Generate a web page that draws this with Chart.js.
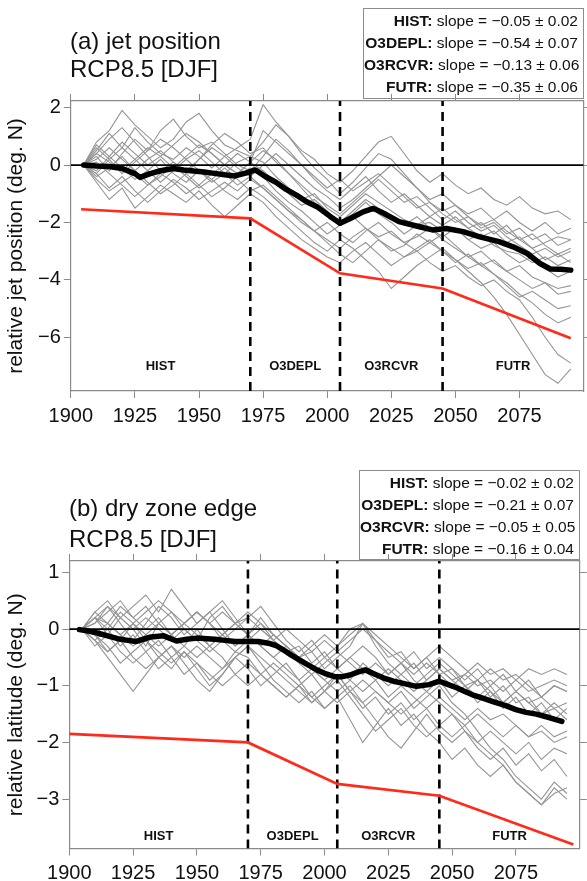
<!DOCTYPE html>
<html><head><meta charset="utf-8">
<script src="https://cdn.jsdelivr.net/npm/chart.js@4.4.1/dist/chart.umd.min.js"></script>
<style>
html,body{margin:0;padding:0;background:#fff;}
body{width:587px;height:881px;position:relative;overflow:hidden;font-family:"Liberation Sans",Arial,sans-serif;color:#111;}
canvas{position:absolute;left:0;}
.t{position:absolute;font-size:24px;line-height:28px;white-space:nowrap;}
.box{position:absolute;border:1px solid #8c8c8c;box-sizing:border-box;font-size:15.5px;line-height:21.9px;text-align:right;padding:1px 5px 0 0;white-space:nowrap;}
</style></head>
<body>
<canvas id="ca" width="587" height="440" style="top:0"></canvas>
<canvas id="cb" width="587" height="441" style="top:440px"></canvas>
<div class="t" style="left:70px;top:27px">(a) jet position</div>
<div class="t" style="left:70px;top:55px">RCP8.5 [DJF]</div>
<div class="t" style="left:69px;top:494px">(b) dry zone edge</div>
<div class="t" style="left:69px;top:525px">RCP8.5 [DJF]</div>
<div class="box" id="boxA" style="left:363px;top:8px;width:221px;height:91px"></div>
<div class="box" id="boxB" style="left:359px;top:470px;width:221px;height:90px"></div>
<script>
// ---------------- DATA ----------------
const xTicks = [1900, 1925, 1950, 1975, 2000, 2025, 2050, 2075];
const yTicksA = [2, 0, -2, -4, -6];
const yTicksB = [1, 0, -1, -2, -3];
const periodNames = ["HIST", "O3DEPL", "O3RCVR", "FUTR"];
const periodBounds = [1900, 1970, 2005, 2045, 2100];
const periodLabels = ["HIST", "O3DEPL", "O3RCVR", "FUTR"];
const slopesA = ["\u22120.05 \u00b1 0.02", "\u22120.54 \u00b1 0.07", "\u22120.13 \u00b1 0.06", "\u22120.35 \u00b1 0.06"];
const slopesB = ["\u22120.02 \u00b1 0.02", "\u22120.21 \u00b1 0.07", "\u22120.05 \u00b1 0.05", "\u22120.16 \u00b1 0.04"];

const memberYears = [1905,1910,1915,1920,1925,1930,1935,1940,1945,1950,1955,1960,1965,1970,1975,1980,1985,1990,1995,2000,2005,2010,2015,2020,2025,2030,2035,2040,2045,2050,2055,2060,2065,2070,2075,2080,2085,2090,2095];

// panel (a) ensemble members (relative jet position, deg N)
const jetM1  = [0,0.8,1.2,1.9,1.4,1.0,0.6,0.9,1.5,1.8,1.2,0.7,0.5,0.3,0.1,-0.4,-0.8,-1.2,-1.0,-1.5,-1.8,-1.4,-1.0,-1.3,-1.6,-1.9,-2.1,-2.0,-2.3,-2.2,-2.6,-2.4,-2.8,-3.0,-3.1,-3.4,-3.2,-3.5,-3.3];
const jetM2  = [0,0.5,1.1,0.6,1.3,0.8,0.4,0.2,0.6,0.3,-0.1,0.3,0.6,0.9,2.1,1.5,1.0,0.5,0.2,-0.3,-0.6,-0.2,0.3,0.8,1.0,0.4,-0.2,-0.6,-0.3,-0.7,-1.0,-0.8,-1.2,-1.4,-1.1,-1.5,-1.7,-1.6,-1.9];
const jetM3  = [0,-0.6,-1.2,-0.8,-1.5,-1.1,-0.7,-1.0,-1.3,-0.9,-1.4,-1.8,-1.4,-1.0,-1.3,-1.8,-2.2,-2.6,-2.9,-3.2,-3.4,-3.0,-2.7,-3.1,-3.5,-3.2,-3.0,-3.4,-3.7,-3.5,-3.9,-4.2,-4.0,-4.4,-4.7,-5.3,-6.0,-6.6,-6.9];
const jetM4  = [0,0.3,-0.2,0.4,0.9,0.5,1.2,1.6,1.0,0.6,0.8,0.4,0.0,-0.2,0.3,0.9,0.5,0.0,-0.5,-0.9,-1.2,-0.8,-0.4,-0.9,-1.3,-1.0,-1.4,-1.8,-1.5,-1.9,-2.2,-2.0,-2.4,-2.1,-2.6,-2.9,-2.7,-2.5,-2.6];
const jetM5  = [0,-0.3,-0.8,-0.4,-0.9,-1.3,-0.9,-0.5,-0.8,-1.2,-0.9,-0.6,-0.9,-0.5,-0.8,-1.2,-1.6,-1.9,-2.3,-2.6,-2.9,-2.5,-2.2,-2.6,-3.0,-2.8,-2.4,-2.7,-3.0,-3.3,-3.6,-3.4,-3.8,-4.2,-4.6,-4.4,-4.7,-5.0,-4.9];
const jetM6  = [0,0.4,0.9,1.3,0.8,0.3,-0.2,0.1,-0.3,0.2,0.7,1.1,0.8,0.4,0.6,0.1,-0.3,-0.7,-1.1,-1.4,-1.7,-1.3,-0.9,-0.5,-0.9,-1.3,-1.1,-1.5,-1.9,-1.6,-2.0,-2.3,-2.1,-2.5,-2.8,-3.1,-2.9,-3.2,-3.0];
const jetM7  = [0,-0.2,0.3,-0.1,-0.5,-0.2,0.2,-0.3,-0.6,-0.2,-0.5,-0.9,-1.2,-0.8,-1.1,-1.5,-1.9,-2.3,-2.7,-3.0,-2.6,-2.9,-3.3,-3.7,-4.3,-3.9,-3.5,-3.2,-2.9,-3.3,-3.7,-4.1,-4.6,-5.2,-5.9,-6.6,-7.3,-7.6,-7.1];
const jetM8  = [0,0.6,0.2,-0.3,0.1,0.5,0.9,0.6,0.2,0.5,0.1,-0.3,0.1,0.3,0.8,1.4,1.0,0.4,-0.1,-0.5,-1.0,-0.6,-0.1,0.4,0.2,-0.3,-0.8,-1.2,-1.0,-1.4,-1.7,-1.5,-1.9,-1.6,-2.0,-2.3,-2.0,-2.4,-2.2];
const jetM9  = [0,-0.4,-0.1,0.3,-0.2,-0.6,-1.0,-0.7,-0.3,-0.7,-1.1,-0.8,-0.4,-0.1,-0.4,-0.9,-1.3,-1.6,-2.0,-2.4,-2.1,-1.8,-2.2,-2.5,-2.3,-2.7,-2.5,-2.2,-2.6,-2.9,-3.2,-3.0,-3.4,-3.7,-3.5,-3.9,-4.1,-4.3,-4.2];
const jetM10 = [0,0.2,0.6,0.2,-0.2,0.2,0.5,0.1,-0.2,0.2,0.6,0.3,-0.1,-0.4,0.0,0.4,0.0,-0.4,-0.8,-1.1,-1.5,-1.2,-0.8,-0.4,0.0,-0.4,-0.8,-1.3,-1.6,-1.4,-1.8,-2.1,-1.9,-2.3,-2.6,-2.4,-2.8,-3.1,-2.9];
const jetM11 = [0,-0.5,-0.9,-0.6,-0.3,-0.7,-0.4,0.0,-0.4,-0.8,-0.5,-0.1,-0.5,-0.9,-0.7,-1.1,-1.5,-1.9,-2.3,-2.7,-3.1,-3.4,-3.0,-2.6,-2.9,-3.2,-2.9,-2.6,-3.0,-3.4,-3.1,-3.5,-3.8,-4.1,-4.5,-4.8,-5.2,-5.5,-5.3];
const jetM12 = [0,0.1,-0.3,-0.7,-1.1,-0.7,-0.3,-0.6,-1.0,-0.7,-0.3,0.0,-0.3,0.1,0.5,0.2,-0.3,-0.8,-1.3,-1.7,-2.0,-1.6,-1.2,-1.5,-1.8,-2.1,-1.8,-2.2,-2.5,-2.2,-2.6,-2.9,-2.7,-3.1,-3.4,-3.2,-3.6,-3.9,-3.7];
const jetM13 = [0,0.7,0.3,0.8,0.4,0.0,0.3,-0.1,0.3,0.7,0.4,0.0,0.4,0.1,-0.2,-0.6,-1.0,-1.4,-1.2,-1.6,-2.0,-1.7,-1.3,-1.7,-2.0,-2.4,-2.1,-1.8,-2.1,-1.8,-2.2,-2.5,-2.3,-2.7,-2.5,-2.9,-3.3,-3.1,-3.4];
const jetM14 = [0,-0.3,0.2,0.6,0.2,-0.2,-0.6,-0.2,0.2,-0.2,-0.6,-0.3,-0.7,-0.4,-0.8,-1.2,-1.6,-2.0,-2.3,-2.0,-2.4,-2.7,-2.3,-2.0,-2.4,-2.7,-3.0,-2.7,-2.4,-2.8,-3.2,-3.5,-3.3,-3.7,-4.0,-4.3,-4.1,-4.5,-4.4];
const jetM15 = [0,0.4,0.1,-0.2,0.2,0.6,0.3,0.7,1.1,0.8,0.4,0.0,-0.3,0.1,1.2,0.8,0.4,0.0,-0.4,-0.8,-0.5,-0.9,-0.6,-0.3,-0.7,-1.1,-1.5,-1.3,-1.7,-2.0,-1.8,-2.2,-2.0,-2.4,-2.2,-2.6,-2.4,-2.8,-2.6];

const jetMeanYears = [1905,1910,1915,1920,1925,1927,1931,1935,1940,1944,1948,1952,1956,1960,1964,1968.5,1972,1976,1980,1984,1988,1992,1996,2001,2005,2009,2014,2018,2022,2028,2036,2041,2046.5,2053,2059.5,2067,2072.5,2078,2083,2087,2091,2095];
const jetMean = [0,-0.03,-0.05,-0.12,-0.3,-0.43,-0.3,-0.2,-0.12,-0.17,-0.21,-0.24,-0.29,-0.34,-0.38,-0.27,-0.17,-0.41,-0.6,-0.85,-1.05,-1.28,-1.45,-1.78,-2.03,-1.86,-1.63,-1.51,-1.68,-1.97,-2.15,-2.26,-2.21,-2.32,-2.5,-2.67,-2.85,-3.08,-3.43,-3.62,-3.63,-3.66];

const jetFitYears = [1904, 1970, 2005, 2045, 2095];
const jetFit = [-1.54, -1.86, -3.77, -4.30, -6.03];

// panel (b) ensemble members (relative latitude, deg N)
const dzM1  = [0,0.3,0.5,0.2,0.4,0.6,0.3,0.7,0.4,0.1,0.3,0.5,0.2,-0.1,0.2,-0.1,-0.3,-0.5,-0.4,-0.7,-0.5,-0.3,0.1,-0.2,-0.5,-0.4,-0.7,-0.5,-0.8,-0.7,-1.0,-0.9,-1.2,-1.0,-1.3,-1.2,-1.5,-1.4,-1.6];
const dzM2  = [0,-0.2,-0.5,-0.8,-1.1,-0.8,-0.5,-0.7,-0.4,-0.7,-1.0,-0.8,-0.5,-0.3,-0.6,-0.9,-1.1,-1.3,-1.1,-1.4,-1.2,-1.6,-2.0,-1.7,-1.4,-1.7,-1.5,-1.8,-2.0,-2.3,-2.1,-2.4,-2.6,-2.4,-2.7,-2.9,-3.1,-2.8,-3.0];
const dzM3  = [0,0.2,-0.1,0.2,0.0,-0.3,0.1,0.3,0.0,-0.2,0.2,0.4,0.1,0.2,0.4,0.1,-0.2,-0.4,-0.2,-0.5,-0.3,0.0,0.1,-0.3,-0.6,-0.8,-0.6,-0.9,-0.7,-0.9,-0.8,-0.6,-0.8,-0.7,-0.9,-0.7,-0.8,-0.7,-0.8];
const dzM4  = [0,-0.3,-0.1,-0.4,-0.6,-0.4,-0.7,-0.5,-0.8,-0.6,-0.9,-0.7,-0.4,-0.5,-0.8,-1.0,-1.2,-1.0,-1.3,-1.1,-0.8,-1.1,-1.4,-1.2,-1.5,-1.3,-1.6,-1.4,-1.7,-1.9,-1.7,-2.0,-2.2,-2.4,-2.7,-2.9,-3.1,-2.9,-2.8];
const dzM5  = [0,0.1,0.4,0.1,-0.2,0.1,0.4,0.2,-0.1,0.1,0.3,0.0,-0.3,-0.1,0.1,-0.2,-0.4,-0.3,-0.6,-0.4,-0.7,-0.5,-0.3,-0.5,-0.8,-0.6,-0.9,-1.1,-0.9,-1.2,-1.0,-1.3,-1.1,-1.4,-1.2,-1.5,-1.3,-1.6,-1.4];
const dzM6  = [0,-0.1,-0.4,-0.2,0.1,-0.2,-0.5,-0.3,-0.6,-0.9,-1.1,-0.8,-0.5,-0.7,-1.0,-0.8,-0.6,-0.9,-1.2,-1.0,-0.8,-1.1,-1.3,-1.6,-1.9,-2.1,-1.8,-1.5,-1.8,-2.0,-1.8,-2.1,-2.3,-2.1,-2.4,-2.2,-2.5,-2.3,-2.6];
const dzM7  = [0,0.2,0.1,0.4,0.2,0.0,0.2,-0.1,0.1,0.3,0.1,-0.2,0.0,0.2,0.0,-0.2,0.0,-0.2,-0.4,-0.2,-0.4,-0.2,0.0,-0.2,-0.4,-0.6,-0.4,-0.7,-0.5,-0.7,-0.9,-0.7,-1.0,-0.8,-1.1,-0.9,-1.2,-1.0,-1.1];
const dzM8  = [0,-0.2,0.0,-0.3,-0.1,-0.4,-0.2,-0.5,-0.3,0.0,-0.3,-0.5,-0.8,-0.6,-0.8,-1.0,-1.2,-1.0,-0.8,-1.1,-1.3,-1.1,-0.9,-1.1,-1.3,-1.1,-1.4,-1.2,-1.0,-1.3,-1.5,-1.8,-2.1,-2.3,-2.6,-2.8,-3.0,-2.7,-2.9];
const dzM9  = [0,0.1,0.3,0.5,0.2,0.4,0.1,-0.1,0.1,-0.1,-0.3,-0.1,0.1,-0.1,-0.3,-0.5,-0.7,-0.9,-0.7,-0.9,-1.1,-0.9,-0.6,-0.8,-1.0,-0.8,-1.0,-0.8,-0.6,-0.8,-1.0,-1.2,-1.0,-1.3,-1.1,-1.3,-1.5,-1.3,-1.5];
const dzM10 = [0,-0.2,-0.4,-0.2,-0.5,-0.7,-0.5,-0.3,-0.5,-0.3,-0.5,-0.7,-0.5,-0.3,-0.5,-0.7,-0.9,-1.1,-1.3,-1.1,-0.9,-1.2,-1.5,-1.8,-1.6,-1.4,-1.7,-1.9,-1.7,-1.5,-1.8,-2.0,-1.8,-2.0,-2.2,-2.0,-2.3,-2.1,-2.2];
const dzM11 = [0,0.2,0.0,0.3,0.1,-0.1,-0.3,-0.1,0.1,0.3,0.1,-0.1,0.1,0.3,0.1,-0.1,-0.3,-0.5,-0.3,-0.1,-0.3,-0.1,0.1,-0.1,-0.3,-0.5,-0.7,-0.5,-0.3,-0.5,-0.7,-0.9,-0.7,-0.9,-0.8,-1.0,-1.2,-1.0,-1.1];
const dzM12 = [0,-0.1,-0.3,-0.6,-0.4,-0.2,-0.4,-0.6,-0.4,-0.6,-0.8,-1.0,-0.8,-1.0,-0.8,-0.6,-0.8,-1.0,-1.2,-1.4,-1.2,-1.0,-1.3,-1.1,-1.3,-1.5,-1.3,-1.1,-1.3,-1.5,-1.7,-1.5,-1.7,-1.9,-1.7,-1.9,-1.8,-2.0,-1.9];
const dzM13 = [0,0.3,0.1,-0.1,0.1,0.3,0.5,0.3,0.1,0.3,0.1,0.3,0.1,-0.1,-0.3,-0.5,-0.3,-0.5,-0.7,-0.5,-0.7,-0.5,-0.7,-0.9,-0.7,-0.9,-1.1,-0.9,-0.7,-0.9,-1.1,-0.9,-1.1,-1.3,-1.1,-1.3,-1.2,-1.4,-1.3];
const dzM14 = [0,-0.1,0.1,-0.1,-0.3,-0.1,0.1,-0.1,-0.3,-0.5,-0.3,-0.1,-0.3,-0.1,-0.3,-0.1,-0.3,-0.5,-0.7,-0.9,-0.7,-0.9,-1.1,-0.9,-1.2,-1.0,-1.2,-1.4,-1.2,-1.4,-1.6,-1.4,-1.6,-1.5,-1.7,-1.9,-1.7,-1.9,-1.8];
const dzM15 = [0,0.2,0.4,0.2,0.0,0.2,0.0,-0.2,0.0,-0.2,-0.4,-0.2,-0.4,-0.2,0.0,-0.2,-0.4,-0.6,-0.8,-0.6,-0.4,-0.6,-0.8,-0.6,-0.8,-0.6,-0.8,-0.6,-0.8,-1.0,-0.8,-1.0,-0.9,-1.1,-0.9,-1.1,-1.0,-0.9,-1.0];

const dzMeanYears = [1904,1908,1911,1915,1919,1923,1926,1929,1932,1937,1942,1946,1950,1954,1957,1961,1965,1969,1974,1978,1981,1984,1987,1990,1993,1997,2000,2004,2007,2010,2013,2016,2020,2023,2027,2030,2033,2036,2041,2045,2048,2052,2055,2058,2062,2066,2071,2075,2079,2083,2088,2093];
const dzMean = [-0.01,-0.04,-0.07,-0.12,-0.17,-0.2,-0.22,-0.18,-0.14,-0.12,-0.21,-0.18,-0.16,-0.17,-0.18,-0.2,-0.22,-0.22,-0.22,-0.25,-0.29,-0.37,-0.46,-0.54,-0.62,-0.72,-0.78,-0.84,-0.84,-0.81,-0.76,-0.72,-0.8,-0.86,-0.92,-0.95,-0.98,-1.01,-0.98,-0.92,-0.97,-1.04,-1.1,-1.16,-1.22,-1.28,-1.35,-1.42,-1.47,-1.5,-1.56,-1.63];

const dzFitYears = [1900, 1970, 2005, 2045, 2097.5];
const dzFit = [-1.85, -2.00, -2.73, -2.94, -3.80];

const jetMembers = [jetM1,jetM2,jetM3,jetM4,jetM5,jetM6,jetM7,jetM8,jetM9,jetM10,jetM11,jetM12,jetM13,jetM14,jetM15];
const dzMembers = [dzM1,dzM2,dzM3,dzM4,dzM5,dzM6,dzM7,dzM8,dzM9,dzM10,dzM11,dzM12,dzM13,dzM14,dzM15];

// ---------------- legend boxes (text) ----------------
function fillBox(id, slopes){
  const el = document.getElementById(id);
  el.innerHTML = periodLabels.map((p,i)=>'<div><b>'+p+':</b> slope = '+slopes[i]+'</div>').join('');
}
fillBox('boxA', slopesA);
fillBox('boxB', slopesB);

// ---------------- chart ----------------
Chart.defaults.font.family = '"Liberation Sans", Arial, Helvetica, sans-serif';
Chart.defaults.color = '#111';
const FRAME = '#8a8a8a';
const pts = (xs, ys) => xs.map((x,i)=>({x:x, y:ys[i]}));
const fmt = v => (v < 0 ? '\u2212' + Math.abs(v) : String(v));

const periodPlugin = {
  id: 'periods',
  afterDatasetsDraw(chart, args, opts){
    const ctx = chart.ctx, xs = chart.scales.x, ys = chart.scales.y;
    ctx.save();
    ctx.font = 'bold 13px "Liberation Sans", Arial, sans-serif';
    ctx.fillStyle = '#111';
    ctx.textAlign = 'center';
    ctx.textBaseline = 'middle';
    periodNames.forEach((n,i)=>{
      const cx = xs.getPixelForValue((periodBounds[i] + periodBounds[i+1]) / 2);
      ctx.fillText(n, cx, ys.getPixelForValue(opts.labelY));
    });
    ctx.restore();
  }
};

function axisCommon(pos, extra){
  return Object.assign({
    type: 'linear', position: pos,
    grid: {display: true, drawOnChartArea: false, drawTicks: true, tickLength: 7, color: FRAME, lineWidth: 1},
    border: {display: true, color: FRAME, width: 1.2}
  }, extra);
}

function makeChart(id, cfg){
  const ds = [];
  cfg.members.forEach(m => ds.push({data: pts(memberYears, m), borderColor: '#959595', borderWidth: 1.1, order: 10}));
  ds.push({data: [{x:1900,y:0},{x:2100,y:0}], borderColor: '#000', borderWidth: 1.8, order: 4});
  [1970, 2005, 2045].forEach(b => ds.push({data: [{x:b,y:cfg.ymin},{x:b,y:cfg.ymax}], borderColor: '#000', borderWidth: 2.6, borderDash: [9,6], order: 3}));
  ds.push({data: pts(cfg.fitYears, cfg.fit), borderColor: '#ff2a1a', borderWidth: 2.7, order: 2});
  ds.push({data: pts(cfg.meanYears, cfg.mean), borderColor: '#000', borderWidth: 5.5, borderJoinStyle: 'round', borderCapStyle: 'round', order: 1});

  return new Chart(document.getElementById(id), {
    type: 'line',
    data: {datasets: ds},
    options: {
      responsive: false, animation: false, devicePixelRatio: 1,
      layout: {padding: 0},
      elements: {point: {radius: 0}, line: {tension: 0}},
      plugins: {legend: {display: false}, tooltip: {enabled: false}, periods: {labelY: cfg.labelY}},
      scales: {
        x: axisCommon('bottom', {min: 1900, max: 2100,
          afterBuildTicks: a => { a.ticks = xTicks.map(v => ({value: v})); },
          ticks: {font: {size: 20}, color: '#111', padding: 6, maxRotation: 0, autoSkip: false, callback: v => String(v)},
          afterFit: s => { s.height = cfg.bottomH; }}),
        x2: axisCommon('top', {min: 1900, max: 2100,
          afterBuildTicks: a => { a.ticks = xTicks.map(v => ({value: v})); },
          ticks: {display: false},
          afterFit: s => { s.height = cfg.topH; }}),
        y: axisCommon('left', {min: cfg.ymin, max: cfg.ymax,
          afterBuildTicks: a => { a.ticks = cfg.yTicks.map(v => ({value: v})); },
          ticks: {font: {size: 20}, color: '#111', padding: 3, autoSkip: false, callback: v => fmt(v)},
          title: {display: true, text: cfg.yTitle, font: {size: 21}, color: '#111', padding: {top: 4, bottom: 0}},
          afterFit: s => { s.width = cfg.leftW; }}),
        y2: axisCommon('right', {min: cfg.ymin, max: cfg.ymax,
          afterBuildTicks: a => { a.ticks = cfg.yTicks.map(v => ({value: v})); },
          ticks: {display: false},
          afterFit: s => { s.width = cfg.rightW; }})
      }
    },
    plugins: [periodPlugin]
  });
}

makeChart('ca', {
  members: jetMembers, meanYears: jetMeanYears, mean: jetMean, fitYears: jetFitYears, fit: jetFit,
  ymin: -7.87, ymax: 2.23, yTicks: yTicksA, yTitle: 'relative jet position (deg. N)', labelY: -7.03,
  leftW: 70.8, rightW: 3.4, topH: 101, bottomH: 49
});
makeChart('cb', {
  members: dzMembers, meanYears: dzMeanYears, mean: dzMean, fitYears: dzFitYears, fit: dzFit,
  ymin: -3.87, ymax: 1.2, yTicks: yTicksB, yTitle: 'relative latitude (deg. N)', labelY: -3.66,
  leftW: 69.3, rightW: 7.3, topH: 121, bottomH: 32.5
});
</script>
</body></html>
